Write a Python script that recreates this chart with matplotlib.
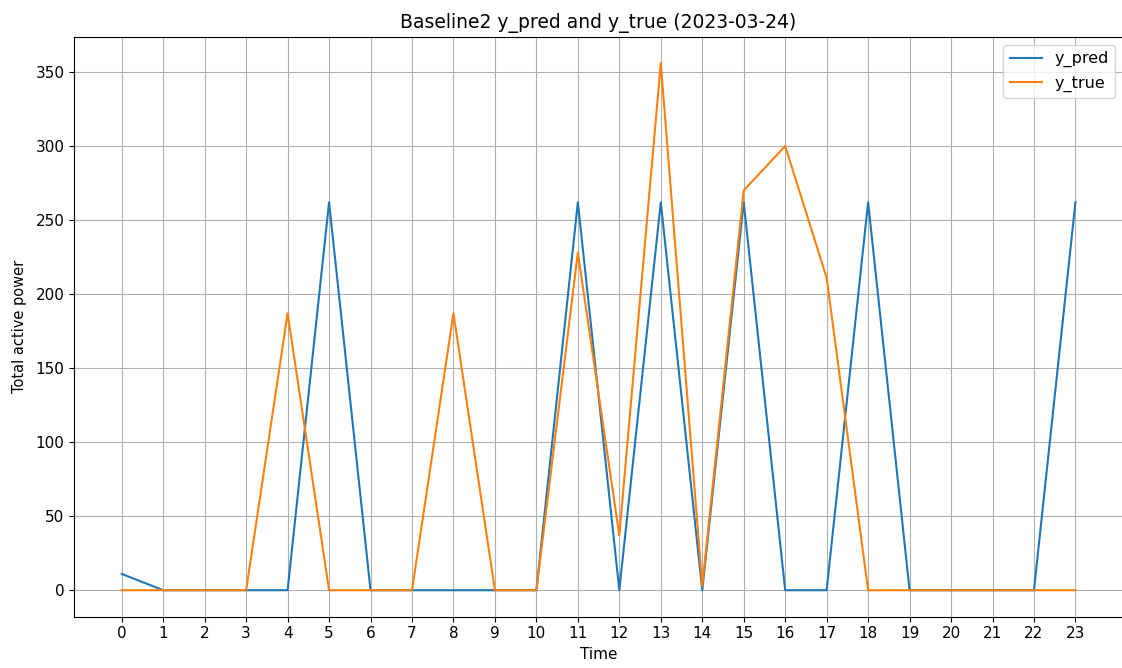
import matplotlib
matplotlib.use("Agg")
import matplotlib.pyplot as plt
import numpy as np

hours = list(range(24))
y_pred = [11, 0, 0, 0, 0, 262, 0, 0, 0, 0, 0, 262,
          0, 262, 0, 262, 0, 0, 262, 0, 0, 0, 0, 262]
y_true = [0, 0, 0, 0, 187, 0, 0, 0, 187, 0, 0, 228,
          37, 356, 3, 270, 300, 211, 0, 0, 0, 0, 0, 0]

fig = plt.figure(figsize=(11.22, 6.68), dpi=100)
ax = fig.add_axes([0.066, 0.077, 0.935, 0.868])

ax.plot(hours, y_pred, label="y_pred")
ax.plot(hours, y_true, label="y_true")

ax.set_xticks(hours)
ax.tick_params(labelsize=11)
ax.set_title("Baseline2 y_pred and y_true (2023-03-24)", fontsize=13.5)
ax.set_xlabel("Time", fontsize=11)
ax.set_ylabel("Total active power", fontsize=10.5, labelpad=6)
ax.grid(True)
ax.legend(loc="upper right", fontsize=11.5)

fig.savefig("out.png", dpi=100)
